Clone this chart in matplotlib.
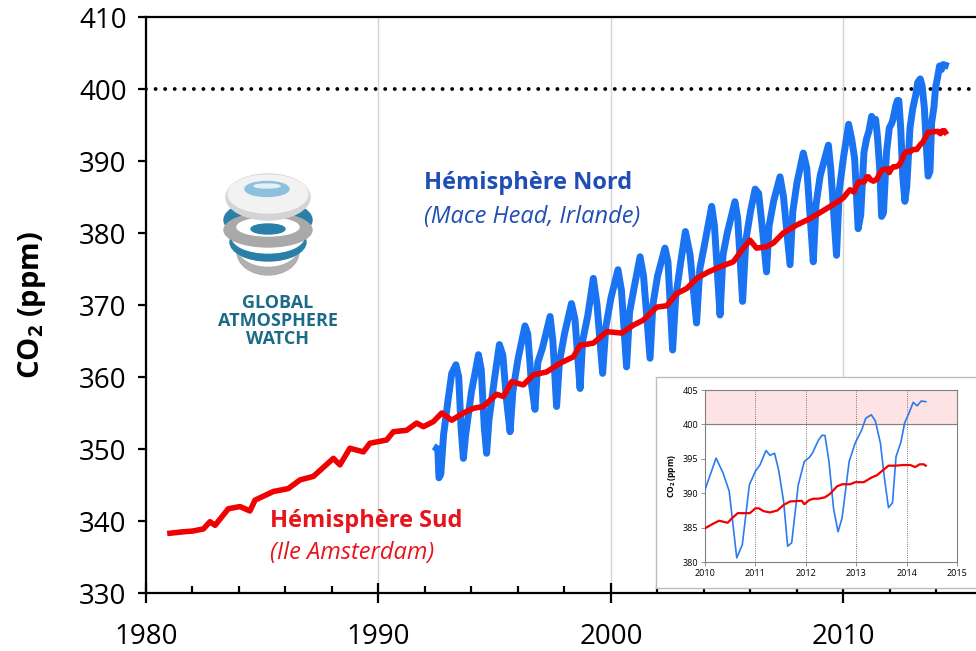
import numpy as np
import matplotlib.pyplot as plt
from matplotlib.patches import Ellipse, Rectangle

plt.rcParams['font.family'] = ['Open Sans', 'DejaVu Sans']
plt.rcParams['mathtext.fontset'] = 'custom'
plt.rcParams['mathtext.rm'] = 'Open Sans'
plt.rcParams['mathtext.bf'] = 'Open Sans:bold'

# ---- data ----
# southern hemisphere (Ile Amsterdam), main chart up to 2009.8
sud_t = [1981.03, 1981.6, 1982.0, 1982.47, 1982.75, 1982.97, 1983.54, 1984.04, 1984.47,
         1984.69, 1985.48, 1986.12, 1986.62, 1987.2, 1988.06, 1988.34, 1988.77, 1989.35,
         1989.63, 1990.35, 1990.64, 1991.21, 1991.64, 1991.93, 1992.36, 1992.72, 1993.15,
         1993.65, 1994.08, 1994.5, 1995.08, 1995.37, 1995.73, 1996.23, 1996.66, 1997.23,
         1997.8, 1998.38, 1998.67, 1999.24, 1999.82, 2000.46, 2000.96, 2001.39, 2001.96,
         2002.4, 2002.83, 2003.26, 2003.69, 2004.19, 2004.69, 2005.26, 2005.69, 2005.98,
         2006.26, 2006.69, 2006.98, 2007.41, 2007.98, 2008.56, 2009.28, 2009.78]
sud_v = [338.3, 338.5, 338.6, 338.9, 339.9, 339.4, 341.7, 342.0, 341.4,
         342.9, 344.1, 344.5, 345.7, 346.2, 348.7, 347.8, 350.1, 349.6,
         350.8, 351.25, 352.4, 352.6, 353.6, 353.1, 353.8, 355.0, 354.0,
         355.0, 355.65, 355.9, 357.6, 357.3, 359.35, 358.9, 360.3, 360.7,
         361.9, 362.8, 364.4, 364.7, 366.3, 366.1, 367.2, 367.9, 369.7,
         369.9, 371.6, 372.3, 373.7, 374.6, 375.3, 376.0, 377.9, 379.0,
         377.9, 378.1, 378.6, 380.0, 381.1, 382.0, 383.4, 384.4]

# northern hemisphere (Mace Head), main chart up to 2009.8
nord_t = [1992.50, 1992.55, 1992.60, 1992.68, 1992.80, 1993.00, 1993.15, 1993.33, 1993.45,
          1993.55, 1993.65, 1993.75, 1994.00, 1994.15, 1994.30, 1994.42, 1994.55, 1994.65,
          1994.75, 1995.00, 1995.20, 1995.35, 1995.50, 1995.66, 1995.78, 1996.00, 1996.30,
          1996.42, 1996.58, 1996.73, 1996.85, 1997.05, 1997.38, 1997.50, 1997.66, 1997.78,
          1998.00, 1998.30, 1998.45, 1998.67, 1998.78, 1999.00, 1999.24, 1999.40, 1999.64,
          1999.78, 2000.00, 2000.30, 2000.45, 2000.67, 2000.80, 2001.00, 2001.25, 2001.40,
          2001.68, 2001.80, 2002.00, 2002.32, 2002.45, 2002.65, 2002.78, 2003.00, 2003.20,
          2003.40, 2003.68, 2003.82, 2004.00, 2004.33, 2004.45, 2004.69, 2004.82, 2005.00,
          2005.33, 2005.45, 2005.66, 2005.80, 2006.00, 2006.20, 2006.35, 2006.50, 2006.69,
          2006.80, 2007.00, 2007.27, 2007.42, 2007.70, 2007.82, 2008.00, 2008.27, 2008.42,
          2008.70, 2008.82, 2009.00, 2009.35, 2009.45, 2009.70, 2009.82]
nord_v = [350.1, 350.0, 346.0, 346.5, 352.0, 357.0, 360.5, 361.7, 360.0,
          353.0, 348.7, 352.0, 358.0, 360.5, 363.1, 361.0, 353.0, 349.4,
          354.0, 360.0, 364.5, 363.0, 357.0, 352.4, 358.0, 362.5, 367.1,
          366.0, 359.0, 355.5, 362.0, 364.0, 368.4, 365.0, 355.9, 362.0,
          366.0, 370.2, 368.0, 358.4, 365.0, 368.5, 373.7, 370.0, 360.5,
          367.0, 371.0, 374.9, 372.0, 361.4, 369.0, 372.5, 376.7, 374.0,
          362.6, 370.0, 374.0, 377.9, 376.0, 363.75, 371.0, 376.0, 380.2,
          377.0, 367.5, 375.0, 378.0, 383.7, 381.0, 368.6, 377.0, 380.0,
          384.35, 382.0, 370.5, 379.0, 383.0, 386.1, 385.5, 381.0, 374.6,
          381.0, 384.5, 387.8, 385.0, 375.6, 383.0, 387.0, 391.1, 389.0,
          376.0, 384.0, 388.0, 392.2, 389.0, 376.9, 386.0]

# 2010-2014 detail (from the inset)
nord_t2 = [2010.0, 2010.22, 2010.36, 2010.48, 2010.63, 2010.74, 2010.88, 2011.0, 2011.09,
           2011.21, 2011.29, 2011.38, 2011.46, 2011.56, 2011.64, 2011.72, 2011.85, 2011.97,
           2012.07, 2012.13, 2012.25, 2012.32, 2012.38, 2012.46, 2012.55, 2012.64, 2012.72,
           2012.86, 2012.98, 2013.11, 2013.19, 2013.30, 2013.38, 2013.48, 2013.56, 2013.64,
           2013.72, 2013.79, 2013.89, 2013.96, 2014.04, 2014.13, 2014.21, 2014.29, 2014.38]
nord_v2 = [390.5, 395.1, 392.9, 390.3, 380.6, 382.5, 391.2, 393.2, 394.1,
           396.2, 395.5, 395.8, 393.4, 388.8, 382.3, 382.8, 391.2, 394.6,
           395.2, 395.8, 397.7, 398.4, 398.4, 394.6, 387.8, 384.4, 386.4,
           394.6, 397.3, 399.2, 400.9, 401.4, 400.5, 397.3, 392.2, 387.9,
           388.6, 395.3, 397.5, 400.2, 401.5, 403.2, 402.7, 403.4, 403.3]
sud_t2 = [2010.0, 2010.17, 2010.28, 2010.45, 2010.54, 2010.65, 2010.89, 2011.0, 2011.07,
          2011.16, 2011.29, 2011.44, 2011.56, 2011.69, 2011.92, 2011.97, 2012.07, 2012.15,
          2012.25, 2012.38, 2012.48, 2012.62, 2012.72, 2012.88, 2012.98, 2013.15, 2013.31,
          2013.41, 2013.54, 2013.64, 2013.77, 2013.94, 2014.07, 2014.17, 2014.26, 2014.34,
          2014.38]
sud_v2 = [384.9, 385.6, 386.0, 385.7, 386.4, 387.1, 387.1, 387.8, 387.8,
          387.4, 387.2, 387.5, 388.3, 388.8, 388.9, 388.4, 389.0, 389.2,
          389.2, 389.4, 389.9, 391.0, 391.3, 391.3, 391.6, 391.6, 392.3,
          392.6, 393.4, 394.0, 394.0, 394.1, 394.1, 393.8, 394.2, 394.2,
          394.0]

seuil = 400
blue = '#1a73f0'
red = '#f00000'

fig = plt.figure(figsize=(9.76, 6.51), dpi=100)
ax = fig.add_axes([146/976, 1-593/651, 830/976, 576/651])

ax.plot(sud_t + sud_t2, sud_v + sud_v2, color=red, lw=4, zorder=3,
        solid_joinstyle='round')
ax.plot(nord_t + nord_t2, nord_v + nord_v2, color=blue, lw=5, zorder=2,
        solid_joinstyle='round')
ax.axhline(seuil, color='black', lw=2.8, linestyle=(0, (0.01, 2.45)),
           dash_capstyle='round', zorder=1)

ax.set_xlim(1980, 1980 + 830/23.25)
ax.set_ylim(330, 410)
ax.set_yticks(np.arange(330, 411, 10))
ax.set_xticks([1980, 1990, 2000, 2010])
ax.set_xticks(np.arange(1982, 2016, 2), minor=True)
ax.grid(axis='x', which='major', color='#d4d4d4', lw=1)
ax.spines['right'].set_visible(False)
for s in ['left', 'bottom', 'top']:
    ax.spines[s].set_linewidth(1.6)
ax.tick_params(axis='x', which='major', direction='inout', length=15, width=1.6,
               labelsize=20, pad=14)
ax.tick_params(axis='x', which='minor', direction='in', length=5, width=1.6)
ax.tick_params(axis='y', direction='out', length=6, width=1.6, labelsize=20, pad=8)
ax.set_ylabel(r'$\mathbf{CO_2}$ (ppm)', fontsize=21, fontweight='bold')
ax.yaxis.set_label_coords(-0.118, 0.5)

ax.text(1991.96, 386.9, 'Hémisphère Nord', color='#1f4fb4', fontsize=17,
        fontweight='bold', va='center')
ax.text(1991.96, 382.2, '(Mace Head, Irlande)', color='#1f4fb4', fontsize=17,
        style='italic', va='center')
ax.text(1985.33, 340.0, 'Hémisphère Sud', color='#e8141b', fontsize=17,
        fontweight='bold', va='center')
ax.text(1985.33, 335.6, '(Ile Amsterdam)', color='#e8141b', fontsize=17,
        style='italic', va='center')

# ---- logo (rough drawing), axes in pixel units ----
lg = fig.add_axes([218/976, 1-280/651, 100/976, 110/651])
lg.set_xlim(0, 100)
lg.set_ylim(110, 0)
lg.axis('off')
logo_blue = '#2a7fa8'
lg.add_patch(Ellipse((50, 82), 62, 46, color='#b0b0b0'))
lg.add_patch(Ellipse((50, 77), 60, 38, color='white'))
lg.add_patch(Ellipse((50, 72), 76, 38, color=logo_blue))
lg.add_patch(Ellipse((50, 67), 72, 32, color='white'))
lg.add_patch(Ellipse((50, 50), 88, 40, color=logo_blue))
lg.add_patch(Ellipse((50, 60), 88, 34, color='#a9a9a9'))
lg.add_patch(Ellipse((50, 57), 62, 18, color='white'))
lg.add_patch(Ellipse((50, 59), 34, 10, color=logo_blue))
lg.add_patch(Ellipse((50, 27), 84, 46, color='#d4d4d4'))
lg.add_patch(Ellipse((50, 24), 80, 38, color='#f2f2f2'))
lg.add_patch(Ellipse((49, 19), 44, 15, color='#8cc0dc'))
lg.add_patch(Ellipse((49, 16), 26, 4, color='#e6f0f5'))
fig.text(278/976, 1-321/651, 'GLOBAL\nATMOSPHERE\nWATCH', color='#1c6b86',
         fontsize=13, fontweight='bold', ha='center', va='center', linespacing=1.0)

# ---- inset 2010-2014 ----
fig.patches.append(Rectangle((656/976, 1-588/651), 330/976, 211/651,
                             transform=fig.transFigure, facecolor='white',
                             edgecolor='#bdbdbd', lw=1, zorder=5))
ins = fig.add_axes([705/976, 1-562/651, 252/976, 172/651], zorder=6)
ins.axhspan(400, 405, color='#fde3e3', zorder=0)
ins.axhline(400, color='#808080', lw=0.8, zorder=1)
ins.plot(nord_t2, nord_v2, color='#2b7bf0', lw=1.2, zorder=3)
ins.plot(sud_t2, sud_v2, color=red, lw=1.6, zorder=4)
ins.set_xlim(2010, 2015)
ins.set_ylim(380, 405)
ins.set_xticks(range(2010, 2016))
ins.set_yticks(range(380, 406, 5))
ins.grid(axis='x', color='#505050', lw=0.6, linestyle=':')
for s in ins.spines.values():
    s.set_color('#808080')
    s.set_linewidth(0.8)
ins.tick_params(labelsize=6.5, length=3, width=0.6, color='#808080', pad=2)
ins.set_ylabel(r'$\mathbf{CO_2}$ (ppm)', fontsize=6, fontweight='bold', labelpad=3)

fig.savefig('out.png', dpi=100)
